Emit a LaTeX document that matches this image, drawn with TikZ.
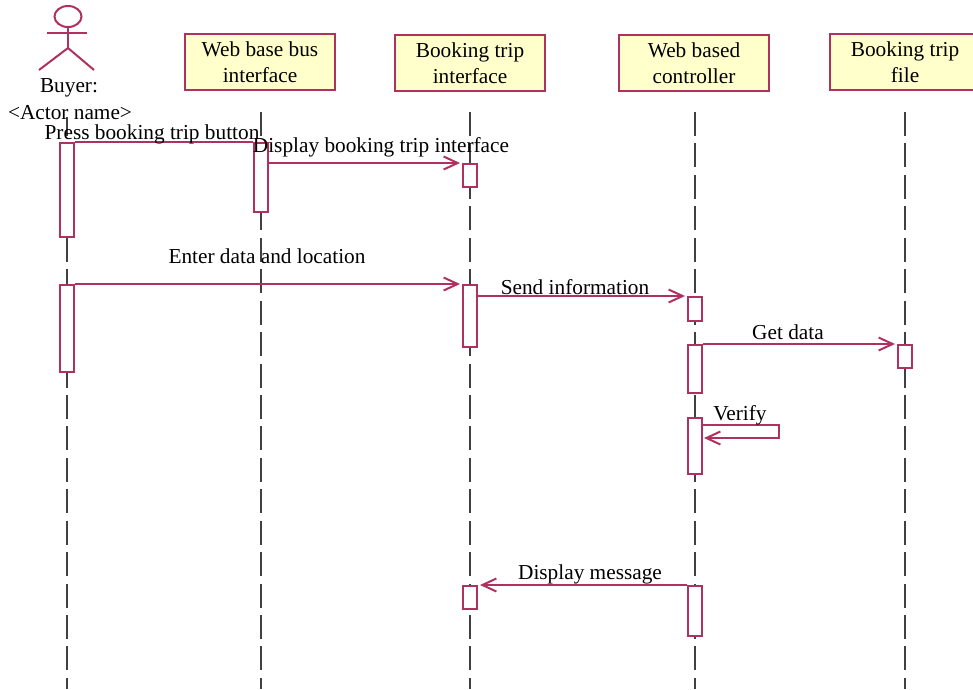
\documentclass[tikz,border=0pt]{standalone}
\usepackage{fontspec}
\setmainfont{Liberation Serif}
\usetikzlibrary{arrows.meta,shapes.geometric}

\definecolor{umlred}{RGB}{176,48,96}
\definecolor{umlyellow}{RGB}{255,255,204}
\tikzset{
    umlline/.style={draw=umlred, line width=2pt},
    classbox/.style={umlline, fill=umlyellow, minimum width=150pt, minimum height=56pt,
        inner sep=0pt, align=center, font=\fontsize{21.3}{26}\selectfont,
        execute at begin node={\rule{0pt}{21pt}}},
    activebar/.style={umlline, fill=white, minimum width=14pt, inner sep=0pt},
    lifeline/.style={draw=black!75, line width=2pt, dash pattern=on 24pt off 7.44pt},
    message/.style={umlline, -{Straight Barb[length=14pt,width=13pt]}, shorten >=2pt},
    msgtext/.style={inner sep=0pt, font=\fontsize{21.3}{24}\selectfont},
}

\begin{document}
\begin{tikzpicture}[x=1pt, y=-1pt]
    \useasboundingbox (0,0) rectangle (973,689);

    % Lifelines, behind everything else
    \coordinate (buyertop) at (67,117);
    \coordinate (buyerend) at (67,689);
    \coordinate (bustop) at (261,112);
    \coordinate (busend) at (261,689);
    \coordinate (booktop) at (470,112);
    \coordinate (bookend) at (470,689);
    \coordinate (ctrltop) at (695,112);
    \coordinate (ctrlend) at (695,689);
    \coordinate (filetop) at (905,112);
    \coordinate (fileend) at (905,689);
    \draw[lifeline, dash phase=5pt] (buyertop) -- (buyerend);
    \draw[lifeline] (bustop) -- (busend);
    \draw[lifeline] (booktop) -- (bookend);
    \draw[lifeline] (ctrltop) -- (ctrlend);
    \draw[lifeline] (filetop) -- (fileend);

    % The actor
    \node[ellipse, umlline, minimum width=27pt, minimum height=21pt, inner sep=0pt] (head) at (68,16.5) {};
    \coordinate (hip) at (68,48);
    \coordinate (armleft) at (47,33);
    \coordinate (armright) at (87,33);
    \coordinate (legleft) at (39,70);
    \coordinate (legright) at (94,70);
    \draw[umlline] (head.south) -- (hip);
    \draw[umlline] (armleft) -- (armright);
    \draw[umlline] (legleft) -- (hip) -- (legright);
    \node[msgtext] (buyer) at (69,88) {Buyer:};
    \node[msgtext] (actorname) at (70,113) {<Actor name>};

    % Header boxes
    \node[classbox] (bus) at (260,62) {Web base bus\\interface};
    \node[classbox] (book) at (470,63) {Booking trip\\interface};
    \node[classbox] (ctrl) at (694,63) {Web based\\controller};
    \node[classbox] (file) at (905,62) {Booking trip\\file};

    % Activation bars
    \node[activebar, minimum height=94pt] (buyera) at (67,190) {};
    \node[activebar, minimum height=87pt] (buyerb) at (67,328.5) {};
    \node[activebar, minimum height=69pt] (busa) at (261,177.5) {};
    \node[activebar, minimum height=23pt] (booka) at (470,175.5) {};
    \node[activebar, minimum height=62pt] (bookb) at (470,316) {};
    \node[activebar, minimum height=23pt] (bookc) at (470,597.5) {};
    \node[activebar, minimum height=24pt] (ctrla) at (695,309) {};
    \node[activebar, minimum height=48pt] (ctrlb) at (695,369) {};
    \node[activebar, minimum height=56pt] (ctrlc) at (695,446) {};
    \node[activebar, minimum height=50pt] (ctrld) at (695,611) {};
    \node[activebar, minimum height=23pt] (filea) at (905,356.5) {};

    % Messages
    \draw[umlline] (buyera.north east) -- (busa.north west);
    \draw[message] (busa.east |- booka.north) -- (booka.north west);
    \draw[message] (buyerb.north east) -- (bookb.north west);
    \draw[message] (bookb.east |- ctrla.north) -- (ctrla.north west);
    \draw[message] (ctrlb.north east) -- (filea.north west);
    \draw[message] (ctrld.north west) -- (bookc.north east);

    % Self call on the controller
    \coordinate (verifya) at (702,425);
    \coordinate (verifyb) at (779,425);
    \coordinate (verifyc) at (779,438);
    \coordinate (verifyd) at (702,438);
    \draw[message] (verifya) -- (verifyb) -- (verifyc) -- (verifyd);

    % Message labels
    \node[msgtext] (press) at (152,134) {Press booking trip button};
    \node[msgtext] (display) at (381,147) {Display booking trip interface};
    \node[msgtext] (enter) at (267,256) {Enter data and location};
    \node[msgtext] (send) at (575,287) {Send information};
    \node[msgtext] (getdata) at (788,332) {Get data};
    \node[msgtext] (verify) at (740,415) {Verify};
    \node[msgtext] (dispmsg) at (590,574) {Display message};
\end{tikzpicture}
\end{document}
